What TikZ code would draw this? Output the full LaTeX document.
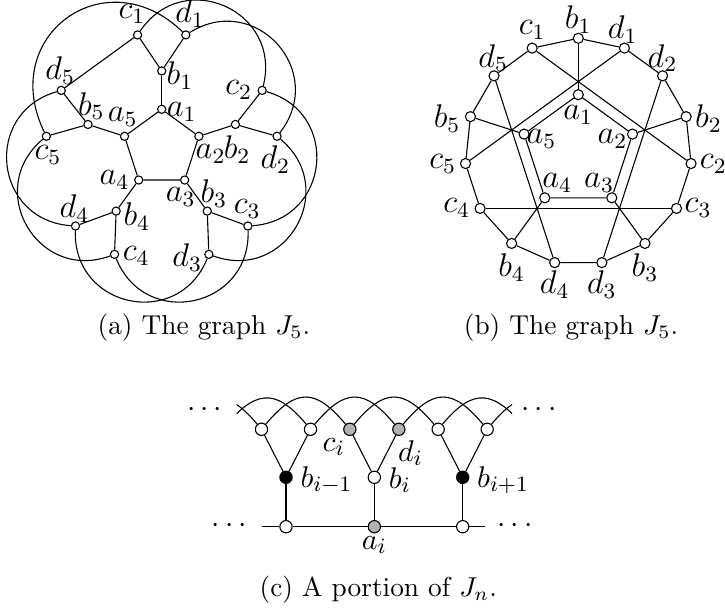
\documentclass[tikz,border=0pt]{standalone}
\usetikzlibrary{calc}
\begin{document}
\begin{tikzpicture}[x=0.366pt,y=0.366pt,
  va/.style={circle,draw,fill=white,inner sep=0pt,minimum size=3pt},
  vb/.style={circle,draw,fill=white,inner sep=0pt,minimum size=3.7pt},
  vc/.style={circle,draw,fill=white,inner sep=0pt,minimum size=4.5pt},
  grayv/.style={fill=black!30},
  blackv/.style={fill=black},
  lab/.style={inner sep=0pt,font=\large},
  labc/.style={inner sep=0pt,font=\fontsize{11}{13}\selectfont},
  arcA/.style={bend left=80,looseness=1.47},
  arcAlong/.style={bend left=80,looseness=1.6},
  arcC/.style={out=50,in=130,looseness=1.52}]
\useasboundingbox (0,0) rectangle (725,615);

% ---------------- (a) ----------------
\coordinate (A) at (161.7,466.6);
\foreach \k in {1,...,5} {
  \node[va] (A-a\k) at ($(A)+({90-72*(\k-1)}:39.1)$) {};
  \node[va] (A-b\k) at ($(A)+({90-72*(\k-1)}:77.5)$) {};
  \node[va] (A-c\k) at ($(A)+({102-72*(\k-1)}:116)$) {};
  \node[va] (A-d\k) at ($(A)+({78-72*(\k-1)}:116)$) {};
}
\draw (A-a1) -- (A-a2) -- (A-a3) -- (A-a4) -- (A-a5) -- (A-a1);
\foreach \k in {1,...,5} {
  \draw (A-a\k) -- (A-b\k);
  \draw (A-b\k) -- (A-c\k);
  \draw (A-b\k) -- (A-d\k);
}
\draw (A-c1) to[arcA] (A-c2);
\draw (A-c2) to[arcA] (A-c3);
\draw (A-c3) to[arcA] (A-c4);
\draw (A-c4) to[arcA] (A-c5);
\draw (A-d1) to[arcA] (A-d2);
\draw (A-d2) to[arcA] (A-d3);
\draw (A-d3) to[arcA] (A-d4);
\draw (A-d4) to[arcA] (A-d5);
\draw (A-c5) to[arcAlong] (A-d1);
\draw (A-d5) -- (A-c1);

\node[lab] (A-lc1) at ($(A-c1)+(-5.6,21)$) {$c_1$};
\node[lab] (A-ld1) at ($(A-d1)+(4.3,21)$) {$d_1$};
\node[lab] (A-lb1) at ($(A-b1)+(18.3,-4.3)$) {$b_1$};
\node[lab] (A-la1) at ($(A-a1)+(20,-2.4)$) {$a_1$};
\node[lab] (A-ld5) at ($(A-d5)+(-1,20)$) {$d_5$};
\node[lab] (A-lb5) at ($(A-b5)+(3.4,18.3)$) {$b_5$};
\node[lab] (A-la5) at ($(A-a5)+(-1.7,19.3)$) {$a_5$};
\node[lab] (A-lc5) at ($(A-c5)+(1.6,-18.3)$) {$c_5$};
\node[lab] (A-lc2) at ($(A-c2)+(-23.4,0)$) {$c_2$};
\node[lab] (A-lb2) at ($(A-b2)+(1.7,-25)$) {$b_2$};
\node[lab] (A-la2) at ($(A-a2)+(11.7,-17.3)$) {$a_2$};
\node[lab] (A-ld2) at ($(A-d2)+(-1.7,-23.3)$) {$d_2$};
\node[lab] (A-la4) at ($(A-a4)+(-24.3,0)$) {$a_4$};
\node[lab] (A-la3) at ($(A-a3)+(-4,-16.7)$) {$a_3$};
\node[lab] (A-lb3) at ($(A-b3)+(6.6,17.4)$) {$b_3$};
\node[lab] (A-lc3) at ($(A-c3)+(-0.6,17.4)$) {$c_3$};
\node[lab] (A-ld4) at ($(A-d4)+(-1,17.4)$) {$d_4$};
\node[lab] (A-lb4) at ($(A-b4)+(20.7,-5.3)$) {$b_4$};
\node[lab] (A-lc4) at ($(A-c4)+(21.7,-1.7)$) {$c_4$};
\node[lab] (A-ld3) at ($(A-d3)+(-21.6,-3.4)$) {$d_3$};

\node (capa) at (204,287) {(a) The graph $J_5$.};

% ---------------- (b) ----------------
\coordinate (B) at (578.3,463.3);
\foreach \k in {1,...,5} {
  \node[vb] (B-a\k) at ($(B)+({90-72*(\k-1)}:57)$) {};
  \node[vb] (B-b\k) at ($(B)+({90-72*(\k-1)}:113.4)$) {};
}
\node[vb] (B-c1) at ($(B)+(114:113.4)$) {};
\node[vb] (B-d1) at ($(B)+(66:113.4)$) {};
\node[vb] (B-c2) at ($(B)+(-6:113.4)$) {};
\node[vb] (B-d2) at ($(B)+(42:113.4)$) {};
\node[vb] (B-c3) at ($(B)+(-30:113.4)$) {};
\node[vb] (B-d3) at ($(B)+(-78:113.4)$) {};
\node[vb] (B-c4) at ($(B)+(-150:113.4)$) {};
\node[vb] (B-d4) at ($(B)+(-102:113.4)$) {};
\node[vb] (B-c5) at ($(B)+(186:113.4)$) {};
\node[vb] (B-d5) at ($(B)+(138:113.4)$) {};

\draw (B-b1) -- (B-d1) -- (B-d2) -- (B-b2) -- (B-c2) -- (B-c3) -- (B-b3)
  -- (B-d3) -- (B-d4) -- (B-b4) -- (B-c4) -- (B-c5) -- (B-b5) -- (B-d5)
  -- (B-c1) -- (B-b1);
\draw (B-a1) -- (B-a2) -- (B-a3) -- (B-a4) -- (B-a5) -- (B-a1);
\foreach \k in {1,...,5} { \draw (B-a\k) -- (B-b\k); }
\draw (B-c1) -- (B-c2);
\draw (B-d1) -- (B-c5);
\draw (B-d5) -- (B-d4);
\draw (B-d2) -- (B-d3);
\draw (B-c4) -- (B-c3);

\node[lab] (B-lb1) at ($(B-b1)+(0,18.3)$) {$b_1$};
\node[lab] (B-lc1) at ($(B-c1)+(0,18.4)$) {$c_1$};
\node[lab] (B-ld1) at ($(B-d1)+(-1.7,18.4)$) {$d_1$};
\node[lab] (B-ld5) at ($(B-d5)+(-0.7,17.7)$) {$d_5$};
\node[lab] (B-ld2) at ($(B-d2)+(0,17.7)$) {$d_2$};
\node[lab] (B-lb5) at ($(B-b5)+(-23.3,-2.3)$) {$b_5$};
\node[lab] (B-lb2) at ($(B-b2)+(22.3,-2.3)$) {$b_2$};
\node[lab] (B-lc5) at ($(B-c5)+(-22.7,0)$) {$c_5$};
\node[lab] (B-lc2) at ($(B-c2)+(22.3,0)$) {$c_2$};
\node[lab] (B-lc4) at ($(B-c4)+(-23.3,0)$) {$c_4$};
\node[lab] (B-lc3) at ($(B-c3)+(21.6,0)$) {$c_3$};
\node[lab] (B-lb4) at ($(B-b4)+(0,-24)$) {$b_4$};
\node[lab] (B-lb3) at ($(B-b3)+(0,-24)$) {$b_3$};
\node[lab] (B-ld4) at ($(B-d4)+(0,-22.3)$) {$d_4$};
\node[lab] (B-ld3) at ($(B-d3)+(0,-22.3)$) {$d_3$};
\node[lab] (B-la1) at ($(B-a1)+(0,-20.7)$) {$a_1$};
\node[lab] (B-la5) at ($(B-a5)+(17.4,-5)$) {$a_5$};
\node[lab] (B-la2) at ($(B-a2)+(-20,-5)$) {$a_2$};
\node[lab] (B-la4) at ($(B-a4)+(12.4,15)$) {$a_4$};
\node[lab] (B-la3) at ($(B-a3)+(-12.7,15)$) {$a_3$};

\node (capb) at (571,287) {(b) The graph $J_5$.};

% ---------------- (c) ----------------
\coordinate (C-c0) at (173.15,185.7);
\coordinate (C-d0) at (222.15,185.7);
\node[vc] (C-c1) at (261.5,185.7) {};
\node[vc] (C-d1) at (310.5,185.7) {};
\node[vc,grayv] (C-c2) at (349.85,185.7) {};
\node[vc,grayv] (C-d2) at (398.85,185.7) {};
\node[vc] (C-c3) at (438.2,185.7) {};
\node[vc] (C-d3) at (487.2,185.7) {};
\coordinate (C-c4) at (526.55,185.7);
\coordinate (C-d4) at (575.55,185.7);
\node[vc,blackv] (C-b1) at (286,137.7) {};
\node[vc] (C-b2) at (374.35,137.7) {};
\node[vc,blackv] (C-b3) at (462.7,137.7) {};
\node[vc] (C-a1) at (286,88.3) {};
\node[vc,grayv] (C-a2) at (374.35,88.3) {};
\node[vc] (C-a3) at (462.7,88.3) {};
\coordinate (C-L) at (261.7,88.3);
\coordinate (C-R) at (485,88.3);

\begin{scope}
  \clip (236.5,150) rectangle (512,260);
  \draw (C-c0) to[arcC] (C-c1);
  \draw (C-d0) to[arcC] (C-d1);
  \draw (C-c1) to[arcC] (C-c2);
  \draw (C-d1) to[arcC] (C-d2);
  \draw (C-c2) to[arcC] (C-c3);
  \draw (C-d2) to[arcC] (C-d3);
  \draw (C-c3) to[arcC] (C-c4);
  \draw (C-d3) to[arcC] (C-d4);
\end{scope}
\foreach \k in {1,2,3} {
  \draw (C-b\k) -- (C-c\k);
  \draw (C-b\k) -- (C-d\k);
  \draw (C-b\k) -- (C-a\k);
}
\draw (C-L) -- (C-a1) -- (C-a2) -- (C-a3) -- (C-R);

\node[labc] (C-lc) at ($(C-c2)+(-16,-18)$) {$c_i$};
\node[labc] (C-ld) at ($(C-d2)+(11.7,-24)$) {$d_i$};
\node[labc,anchor=west] (C-lb1) at ($(C-b1)+(14,-2.7)$) {$b_{i-1}$};
\node[labc,anchor=west] (C-lb2) at ($(C-b2)+(14,-2.7)$) {$b_i$};
\node[labc,anchor=west] (C-lb3) at ($(C-b3)+(14,-2.7)$) {$b_{i+1}$};
\node[labc] (C-la) at ($(C-a2)+(0,-18.3)$) {$a_i$};

\node[labc] (C-dots1) at (204.5,205) {$\cdots$};
\node[labc] (C-dots2) at (539,205) {$\cdots$};
\node[labc] (C-dots3) at (229.3,89.3) {$\cdots$};
\node[labc] (C-dots4) at (515,89.3) {$\cdots$};

\node (capc) at (378.3,25) {(c) A portion of $J_n$.};
\end{tikzpicture}
\end{document}
